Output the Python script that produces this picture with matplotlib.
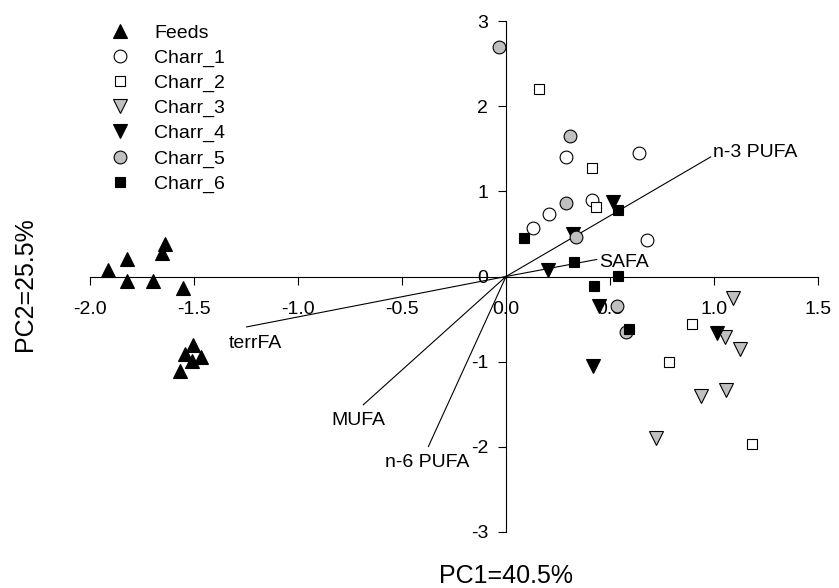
import matplotlib.pyplot as plt

plt.rcParams['font.family'] = ['Liberation Sans', 'DejaVu Sans']
plt.rcParams['axes.unicode_minus'] = False

# PCA scores
feeds_x = [-1.915, -1.824, -1.824, -1.699, -1.638, -1.655, -1.551,
           -1.503, -1.543, -1.468, -1.508, -1.567]
feeds_y = [0.074, 0.20, -0.055, -0.055, 0.376, 0.279, -0.133,
           -0.80, -0.906, -0.945, -0.997, -1.114]

charr1_x = [0.287, 0.641, 0.413, 0.208, 0.131, 0.676]
charr1_y = [1.404, 1.455, 0.898, 0.730, 0.573, 0.424]

charr2_x = [0.160, 0.412, 0.431, 0.893, 0.785, 1.181]
charr2_y = [2.200, 1.279, 0.820, -0.560, -1.008, -1.965]

charr3_x = [1.090, 1.053, 1.125, 1.058, 0.936, 0.721]
charr3_y = [-0.251, -0.714, -0.851, -1.329, -1.400, -1.898]

charr4_x = [0.516, 0.320, 0.203, 0.447, 0.417, 1.016]
charr4_y = [0.874, 0.494, 0.082, -0.349, -1.055, -0.663]

charr5_x = [-0.032, 0.308, 0.288, 0.335, 0.532, 0.575]
charr5_y = [2.690, 1.650, 0.867, 0.462, -0.349, -0.655]

charr6_x = [0.540, 0.088, 0.328, 0.540, 0.423, 0.591]
charr6_y = [0.780, 0.447, 0.168, 0.004, -0.106, -0.615]

# loading vectors
load_names = ['n-3 PUFA', 'SAFA', 'terrFA', 'MUFA', 'n-6 PUFA']
load_x = [0.984, 0.436, -1.247, -0.686, -0.373]
load_y = [1.404, 0.200, -0.592, -1.506, -1.996]
# label offsets in points from the vector tip
label_off = {'n-3 PUFA': (1.4, 0), 'SAFA': (1.8, -5.3), 'terrFA': (-13.2, -15.1),
             'MUFA': (-22.8, -14.4), 'n-6 PUFA': (-31.2, -15.1)}

xticks = [-2.0, -1.5, -1.0, -0.5, 0.0, 0.5, 1.0, 1.5]
yticks = [-3, -2, -1, 0, 1, 2, 3]

gray = '#c0c0c0'
groups = [
    ('Feeds', feeds_x, feeds_y, '^', 'black', 10.6),
    ('Charr_1', charr1_x, charr1_y, 'o', 'white', 9.2),
    ('Charr_2', charr2_x, charr2_y, 's', 'white', 7.9),
    ('Charr_3', charr3_x, charr3_y, 'v', gray, 10.6),
    ('Charr_4', charr4_x, charr4_y, 'v', 'black', 10.6),
    ('Charr_5', charr5_x, charr5_y, 'o', gray, 9.2),
    ('Charr_6', charr6_x, charr6_y, 's', 'black', 7.9),
]

fig = plt.figure(figsize=(8.39, 5.88), dpi=100)
ax = fig.add_axes([90/839, 56/588, 728/839, 511/588])

for name, lx, ly in zip(load_names, load_x, load_y):
    ax.plot([0, lx], [0, ly], color='black', lw=0.8, zorder=1)
    ax.annotate(name, (lx, ly), xytext=label_off[name], textcoords='offset points',
                ha='left', va='baseline', fontsize=14)

for name, gx, gy, m, fc, ms in groups:
    ax.plot(gx, gy, linestyle='none', marker=m, markerfacecolor=fc,
            markeredgecolor='black', markeredgewidth=0.8, markersize=ms,
            label=name, zorder=3)

ax.set_xlim(-2.0, 1.5)
ax.set_ylim(-3, 3)
ax.spines['left'].set_position(('data', 0))
ax.spines['bottom'].set_position(('data', 0))
ax.spines['top'].set_visible(False)
ax.spines['right'].set_visible(False)
for s in ('left', 'bottom'):
    ax.spines[s].set_linewidth(0.8)

ax.set_xticks(xticks)
ax.set_xticklabels([f'{t:.1f}' for t in xticks])
ax.set_yticks(yticks)
ax.set_yticklabels([str(t) for t in yticks])
ax.tick_params(axis='x', direction='out', length=5.8, width=0.8, labelsize=14, pad=12)
ax.tick_params(axis='y', direction='out', length=5.8, width=0.8, labelsize=14, pad=7)

fig.text(506/839, 1 - 576/588, 'PC1=40.5%', ha='center', va='center', fontsize=18)
fig.text(25/839, 1 - 284/588, 'PC2=25.5%', ha='center', va='center', fontsize=18,
         rotation=90)

ax.legend(loc='upper left', bbox_to_anchor=(105.5/839, 0.959), bbox_transform=fig.transFigure,
          frameon=False, fontsize=14, numpoints=1, handlelength=1.5,
          handletextpad=1.0, labelspacing=0.38, borderpad=0, borderaxespad=0)

fig.savefig('out.png', dpi=100)
